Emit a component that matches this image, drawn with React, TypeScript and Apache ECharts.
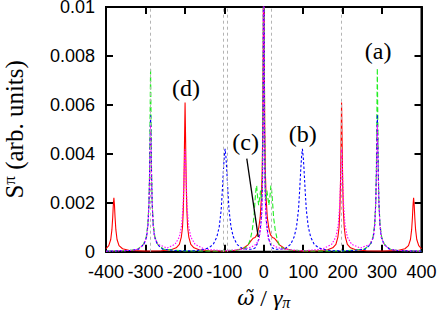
import React, { useEffect, useRef } from "react";
import * as echarts from "echarts";

// ---- data ----
const xTicks = { min: -400, max: 400, interval: 100 };
const yTicks = { min: 0, max: 0.01, interval: 0.002 };

const redSeries: [number, number][] = [
  [-400, 0.00012], [-393, 0.00025], [-388, 0.0005], [-385, 0.0009], [-383, 0.0014], [-381.5, 0.0019], [-380, 0.0022],
  [-378.5, 0.0019], [-377, 0.0014], [-375, 0.0009], [-372, 0.0005], [-367, 0.00025], [-358, 0.00012], [-340, 0.00005],
  [-300, 0.00003], [-260, 0.00004], [-235, 0.00008], [-222, 0.00016], [-214, 0.0003], [-209, 0.0006], [-206, 0.001],
  [-204, 0.0017], [-202.5, 0.0027], [-201.5, 0.0038], [-200.3, 0.0052], [-199.5, 0.0061], [-198.7, 0.0052],
  [-197.5, 0.0038], [-196.5, 0.0027], [-195, 0.0017], [-193, 0.001], [-190, 0.0006], [-185, 0.0003], [-177, 0.00016],
  [-164, 0.00008], [-140, 0.00004], [-100, 0.00003], [-70, 0.00006], [-52, 0.00014], [-40, 0.00028], [-32, 0.00045],
  [-27, 0.00055], [-22, 0.00058], [-17, 0.0007], [-13, 0.00095], [-9, 0.0014], [-6, 0.0022], [-4, 0.0033],
  [-2.5, 0.005], [-1.2, 0.0085], [0, 0.016], [1.2, 0.0085], [2.5, 0.005], [4, 0.0033], [6, 0.0022], [9, 0.0014],
  [13, 0.00095], [17, 0.0007], [22, 0.00058], [27, 0.00055], [32, 0.00045], [40, 0.00028], [52, 0.00014],
  [70, 0.00006], [100, 0.00003], [140, 0.00004], [162, 0.00008], [175, 0.00016], [183, 0.0003], [188, 0.0006],
  [191, 0.001], [193, 0.0017], [194.5, 0.0027], [195.5, 0.0038], [196.6, 0.0052], [197.3, 0.0061], [198.1, 0.0052],
  [199.3, 0.0038], [200.3, 0.0027], [201.8, 0.0017], [204, 0.001], [207, 0.0006], [212, 0.0003], [220, 0.00016],
  [233, 0.00008], [260, 0.00004], [300, 0.00003], [340, 0.00005], [358, 0.00012], [367, 0.00025], [372, 0.0005],
  [375, 0.0009], [377, 0.0014], [378.5, 0.0019], [380, 0.0022], [381.5, 0.0019], [383, 0.0014], [385, 0.0009],
  [388, 0.0005], [393, 0.00025], [400, 0.00012],
];

const greenSeries: [number, number][] = [
  [-400, 0.00002], [-340, 0.00005], [-320, 0.0001], [-305, 0.0003], [-298, 0.0006], [-294, 0.0011], [-291, 0.002],
  [-289.5, 0.0033], [-288.2, 0.0055], [-287, 0.0075], [-285.8, 0.0055], [-284.5, 0.0033], [-283, 0.002],
  [-280, 0.0011], [-276, 0.0006], [-269, 0.0003], [-254, 0.0001], [-200, 0.00003], [-120, 0.00003], [-70, 0.00006],
  [-50, 0.00012], [-40, 0.00025], [-34, 0.0005], [-29, 0.0009], [-25, 0.0014], [-22, 0.0021], [-19.5, 0.0026],
  [-18, 0.0027], [-16, 0.0023], [-13, 0.0019], [-10.5, 0.0022], [-8, 0.0025], [-6, 0.0021], [-4, 0.0025],
  [-2.5, 0.0045], [-1.2, 0.009], [0, 0.02], [1.2, 0.009], [2.5, 0.0045], [4, 0.0025], [6, 0.0021], [8, 0.0025],
  [10.5, 0.0022], [13, 0.0019], [16, 0.0023], [18, 0.0027], [19.5, 0.0026], [22, 0.0021], [25, 0.0014],
  [29, 0.0009], [34, 0.0005], [40, 0.00025], [50, 0.00012], [70, 0.00006], [120, 0.00003], [200, 0.00003],
  [255, 0.0001], [270, 0.0003], [277, 0.0006], [281, 0.0011], [284, 0.002], [285.5, 0.0033], [286.8, 0.0055],
  [288, 0.0075], [289.2, 0.0055], [290.5, 0.0033], [292, 0.002], [295, 0.0011], [299, 0.0006], [306, 0.0003],
  [321, 0.0001], [340, 0.00005], [400, 0.00002],
];

const blueSeries: [number, number][] = [
  [-400, 0.00002], [-340, 0.00005], [-318, 0.0001], [-304, 0.0003], [-297, 0.0006], [-293.5, 0.0011],
  [-291, 0.002], [-289.3, 0.0033], [-288, 0.0047], [-287, 0.0056], [-286, 0.0047], [-284.7, 0.0033], [-283, 0.002],
  [-280.5, 0.0011], [-277, 0.0006], [-270, 0.0003], [-256, 0.0001], [-220, 0.00004], [-175, 0.00004],
  [-155, 0.00008], [-140, 0.00015], [-128, 0.0003], [-119, 0.0006], [-113, 0.001], [-108, 0.0017], [-105, 0.0025],
  [-102, 0.0034], [-100, 0.0039], [-98, 0.0042], [-96, 0.0039], [-94, 0.0034], [-91, 0.0025], [-88, 0.0017],
  [-83, 0.001], [-77, 0.0006], [-68, 0.0003], [-56, 0.00015], [-42, 0.0001], [-30, 0.0001], [-22, 0.00015],
  [-17, 0.0003], [-13, 0.0005], [-10, 0.0008], [-7, 0.0012], [-5, 0.0017], [-3, 0.003], [-1.5, 0.006], [0, 0.016],
  [1.5, 0.006], [3, 0.003], [5, 0.0017], [7, 0.0012], [10, 0.0008], [13, 0.0005], [17, 0.0003], [22, 0.00015],
  [30, 0.0001], [42, 0.0001], [56, 0.00015], [68, 0.0003], [77, 0.0006], [83, 0.001], [88, 0.0017], [91, 0.0025],
  [94, 0.0034], [96, 0.0039], [98, 0.0042], [100, 0.0039], [102, 0.0034], [105, 0.0025], [108, 0.0017],
  [113, 0.001], [119, 0.0006], [128, 0.0003], [140, 0.00015], [155, 0.00008], [175, 0.00004], [220, 0.00004],
  [257, 0.0001], [271, 0.0003], [278, 0.0006], [281.5, 0.0011], [284, 0.002], [285.7, 0.0033], [287, 0.0047],
  [288, 0.0056], [289, 0.0047], [290.3, 0.0033], [292, 0.002], [294.5, 0.0011], [298, 0.0006], [305, 0.0003],
  [319, 0.0001], [340, 0.00005], [400, 0.00002],
];

const magentaSeries: [number, number][] = [
  [-400, 0.00002], [-340, 0.00005], [-318, 0.0001], [-304, 0.0003], [-297, 0.0006], [-293.5, 0.0011],
  [-291, 0.002], [-289.3, 0.0032], [-288, 0.0044], [-287, 0.0052], [-286, 0.0044], [-284.7, 0.0032], [-283, 0.002],
  [-280.5, 0.0011], [-277, 0.0006], [-268, 0.0003], [-245, 0.00015], [-225, 0.0003], [-214, 0.0006],
  [-208, 0.0011], [-204.5, 0.0019], [-202.3, 0.0029], [-200.6, 0.0038], [-199.5, 0.0042], [-198.4, 0.0038],
  [-196.7, 0.0029], [-194.5, 0.0019], [-191, 0.0011], [-185, 0.0006], [-174, 0.0003], [-150, 0.0001],
  [-100, 0.00004], [-50, 0.0001], [-30, 0.0002], [-20, 0.0003], [-12, 0.0005], [-8, 0.0009], [-5, 0.0015],
  [-3, 0.0028], [-1.5, 0.006], [0, 0.016], [1.5, 0.006], [3, 0.0028], [5, 0.0015], [8, 0.0009], [12, 0.0005],
  [20, 0.0003], [30, 0.0002], [50, 0.0001], [100, 0.00004], [148, 0.0001], [172, 0.0003], [183, 0.0006],
  [189, 0.0011], [192.5, 0.0019], [194.7, 0.0029], [196.4, 0.0038], [197.5, 0.0042], [198.6, 0.0038],
  [200.3, 0.0029], [202.5, 0.0019], [206, 0.0011], [212, 0.0006], [223, 0.0003], [245, 0.00015], [269, 0.0003],
  [278, 0.0006], [281.5, 0.0011], [284, 0.002], [285.7, 0.0032], [287, 0.0044], [288, 0.0052], [289, 0.0044],
  [290.3, 0.0032], [292, 0.002], [294.5, 0.0011], [298, 0.0006], [305, 0.0003], [319, 0.0001], [340, 0.00005],
  [400, 0.00002],
];

// vertical dashed reference lines (omega positions)
const grayLines = [-287, -102.5, -93, 19, 196];

// annotations: text and anchor (data coords)
const annotationTexts = ["(a)", "(b)", "(c)", "(d)"];
const annotationAnchors: [number, number][] = [
  [290, 0.0082], [99, 0.0048], [-46, 0.0045], [-197, 0.0067],
];
const pointerFrom: [number, number] = [-43, 0.0038];
const pointerTo: [number, number] = [-14, 0.0006];

const SERIF = "'Liberation Serif', 'DejaVu Serif', serif";
const SANS = "'Liberation Sans', Arial, sans-serif";
const FRAME_W = 2;
const TICK_LEN = 7;

export default function App() {
  const ref = useRef<HTMLDivElement>(null);
  useEffect(() => {
    if (!ref.current) return;
    const chart = echarts.init(ref.current, null, { renderer: "svg" });
    const mkLine = () => ({ show: true, onZero: false, lineStyle: { color: "#000", width: FRAME_W } });
    const mkTick = () => ({ show: true, inside: true, length: TICK_LEN, lineStyle: { color: "#000", width: FRAME_W } });
    const option: any = {
      animation: false,
      grid: {
        left: 106, top: 7, width: 315.5, height: 244.7, containLabel: false,
        outerBoundsMode: "none",
        show: true, borderColor: "#000", borderWidth: FRAME_W,
      },
      xAxis: [
        {
          type: "value", position: "bottom", ...xTicks,
          axisLine: mkLine(), axisTick: mkTick(), splitLine: { show: false },
          axisLabel: { show: true, margin: 11, color: "#000", fontFamily: SANS, fontSize: 18 },
          name: "{w|ω̃}{n| / }{i|γ}{sub|π}",
          nameLocation: "middle", nameGap: 33,
          nameTextStyle: {
            rich: {
              w: { fontFamily: "'DejaVu Serif', serif", fontStyle: "italic", fontSize: 21, color: "#000", lineHeight: 26 },
              i: { fontFamily: SERIF, fontStyle: "italic", fontSize: 24, color: "#000", lineHeight: 26 },
              n: { fontFamily: SERIF, fontSize: 24, color: "#000", lineHeight: 26 },
              sub: { fontFamily: SERIF, fontStyle: "italic", fontSize: 16, color: "#000", verticalAlign: "bottom", lineHeight: 22 },
            },
          },
        },
        {
          type: "value", position: "top", ...xTicks,
          axisLine: mkLine(), axisTick: mkTick(), splitLine: { show: false }, axisLabel: { show: false },
        },
      ],
      yAxis: [
        {
          type: "value", position: "left", ...yTicks,
          axisLine: mkLine(), axisTick: mkTick(), splitLine: { show: false },
          axisLabel: { show: true, margin: 11, color: "#000", fontFamily: SANS, fontSize: 18 },
          name: "{s|S}{p|π}{s| (arb. units)}",
          nameLocation: "middle", nameGap: 79, nameRotate: 90,
          nameTextStyle: {
            rich: {
              s: { fontFamily: SERIF, fontSize: 25, color: "#000", lineHeight: 26 },
              p: { fontFamily: SERIF, fontSize: 17, color: "#000", verticalAlign: "top", lineHeight: 26 },
            },
          },
        },
        {
          type: "value", position: "right", ...yTicks,
          axisLine: mkLine(), axisTick: mkTick(), splitLine: { show: false }, axisLabel: { show: false },
        },
      ],
      series: [
        {
          name: "red", type: "line", data: redSeries, showSymbol: false, symbol: "none",
          lineStyle: { color: "#ff0000", width: 1.1 }, clip: true,
          markLine: {
            silent: true, symbol: "none", label: { show: false },
            lineStyle: { type: [3, 3], color: "#b4b4b4", width: 1 },
            data: grayLines.map((x) => ({ xAxis: x })),
          },
        },
        {
          name: "green", type: "line", data: greenSeries, showSymbol: false, symbol: "none",
          lineStyle: { color: "#22ee22", width: 1.1, type: [5, 2.5] }, clip: true,
        },
        {
          name: "blue", type: "line", data: blueSeries, showSymbol: false, symbol: "none",
          lineStyle: { color: "#0000ff", width: 1.1, type: [2.5, 2] }, clip: true,
        },
        {
          name: "magenta", type: "line", data: magentaSeries, showSymbol: false, symbol: "none",
          lineStyle: { color: "#ff00ff", width: 1.1, type: [1.5, 1.5] }, clip: true,
          markLine: {
            silent: true, symbol: "none", label: { show: false },
            lineStyle: { type: "solid", color: "#000", width: 1.3 },
            data: [[{ coord: pointerFrom }, { coord: pointerTo }]],
          },
          markPoint: {
            silent: true, symbol: "rect", symbolSize: 1,
            itemStyle: { color: "rgba(0,0,0,0)" },
            label: {
              show: true, position: "inside", color: "#000", fontFamily: SERIF, fontSize: 24,
              formatter: (p: any) => p.name,
            },
            data: annotationTexts.map((t, i) => ({ name: t, coord: annotationAnchors[i] })),
          },
        },
      ],
    };
    chart.setOption(option);
    return () => chart.dispose();
  }, []);
  return (
    <div
      ref={ref}
      style={{ position: "fixed", left: 0, top: 0, width: 437, height: 310, background: "#fff" }}
    />
  );
}
